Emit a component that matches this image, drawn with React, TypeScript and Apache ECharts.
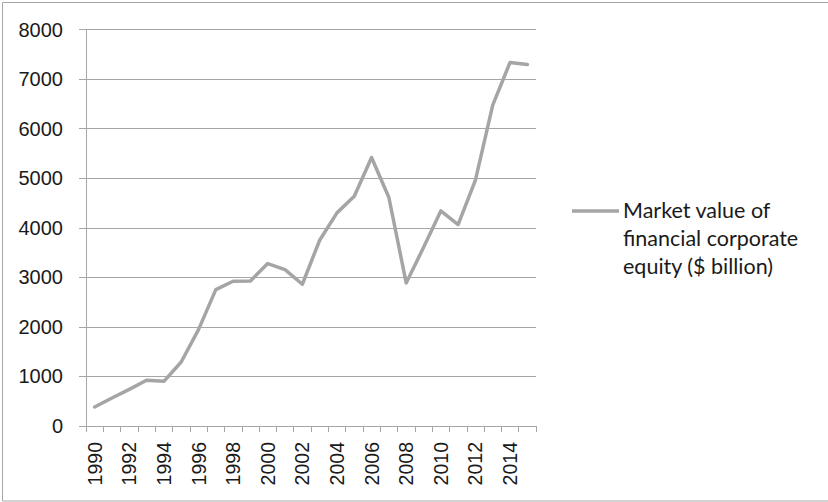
import React, { useEffect, useRef } from "react";
import * as echarts from "echarts";

const years: string[] = [
  "1990", "1991", "1992", "1993", "1994", "1995", "1996", "1997", "1998", "1999",
  "2000", "2001", "2002", "2003", "2004", "2005", "2006", "2007", "2008", "2009",
  "2010", "2011", "2012", "2013", "2014", "2015",
];
const marketValue: number[] = [
  384, 565, 740, 922, 902, 1292, 1945, 2752, 2921, 2927,
  3277, 3156, 2860, 3748, 4300, 4637, 5417, 4610, 2887, 3600,
  4340, 4065, 4960, 6474, 7335, 7295,
];
const seriesName = "Market value of financial corporate equity ($ billion)";
const legendLines: string[] = ["Market value of", "financial corporate", "equity ($ billion)"];

export default function App() {
  const ref = useRef<HTMLDivElement>(null);
  useEffect(() => {
    if (!ref.current) return;
    const chart = echarts.init(ref.current, undefined, { renderer: "svg" });
    chart.setOption({
      animation: false,
      backgroundColor: "#ffffff",
      grid: { left: 86, right: 292, top: 29.5, bottom: 76, containLabel: false },
      xAxis: {
        type: "category",
        data: years,
        boundaryGap: true,
        axisLine: { lineStyle: { color: "#a6a6a6", width: 1 } },
        axisTick: { show: true, interval: 0, length: 6, lineStyle: { color: "#a6a6a6" } },
        axisLabel: {
          interval: 1,
          rotate: 90,
          margin: 16,
          color: "#1a1a1a",
          fontFamily: "Liberation Sans",
          fontSize: 19.5,
        },
        splitLine: { show: false },
      },
      yAxis: {
        type: "value",
        min: 0,
        max: 8000,
        interval: 1000,
        axisLine: { show: true, lineStyle: { color: "#a6a6a6", width: 1 } },
        axisTick: { show: true, length: 7, lineStyle: { color: "#a6a6a6" } },
        axisLabel: {
          margin: 23,
          color: "#1a1a1a",
          fontFamily: "Liberation Sans",
          fontSize: 20,
          formatter: (v: number) => String(v),
        },
        splitLine: { show: true, lineStyle: { color: "#a6a6a6", width: 1 } },
      },
      series: [
        {
          name: seriesName,
          type: "line",
          data: marketValue,
          symbol: "none",
          lineStyle: { color: "#a5a5a5", width: 3.5, join: "round", cap: "round" },
          itemStyle: { color: "#a5a5a5" },
        },
      ],
      graphic: [
        {
          type: "rect",
          shape: { x: 2.5, y: 2.5, width: 830, height: 498.5 },
          style: { fill: "none", stroke: "#a6a6a6", lineWidth: 1 },
          silent: true,
        },
        {
          type: "line",
          shape: { x1: 572, y1: 211, x2: 619, y2: 211 },
          style: { stroke: "#a5a5a5", lineWidth: 3.5 },
        },
        {
          type: "text",
          x: 623,
          y: 196,
          style: {
            text: legendLines.join("\n"),
            fontFamily: "Lato",
            fontSize: 21.5,
            lineHeight: 28,
            fill: "#1a1a1a",
          },
        },
      ],
    });
    return () => chart.dispose();
  }, []);
  return (
    <div
      ref={ref}
      style={{ position: "fixed", left: 0, top: 0, width: 828, height: 502 }}
    />
  );
}
